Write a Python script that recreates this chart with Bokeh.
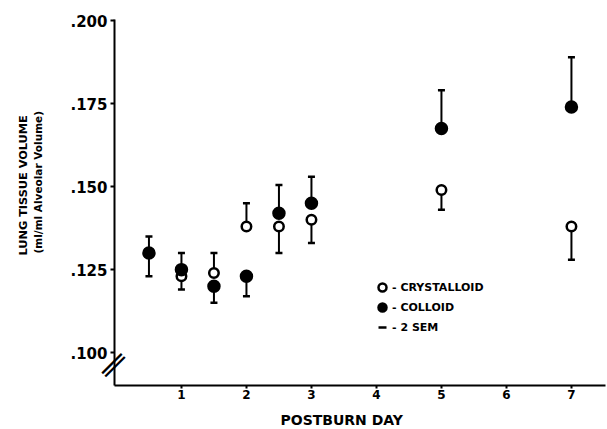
import math
from bokeh.plotting import figure
from bokeh.models import (ColumnDataSource, FixedTicker, CustomJSTickFormatter, LinearAxis,
                          Legend, LegendItem, Range1d, Title)
from bokeh.embed import file_html
from bokeh.resources import INLINE

# ---- data ----
days = [0.5, 1, 1.5, 2, 2.5, 3, 5, 7]
crystalloid = [0.130, 0.123, 0.124, 0.138, 0.138, 0.140, 0.149, 0.138]
crystalloid_bar_end = [0.123, 0.119, 0.130, 0.145, 0.130, 0.133, 0.143, 0.128]
colloid = [0.130, 0.125, 0.120, 0.123, 0.142, 0.145, 0.1675, 0.174]
colloid_bar_end = [0.135, 0.130, 0.115, 0.117, 0.1505, 0.153, 0.179, 0.189]
x_ticks = [1, 2, 3, 4, 5, 6, 7]
y_ticks = [0.100, 0.125, 0.150, 0.175, 0.200]
axis_break_at = [0.0951]

FONT = "DejaVu Sans"

p = figure(width=607, height=429, output_backend="svg", toolbar_location=None,
           x_range=Range1d(-0.03, 7.524), y_range=Range1d(0.0901, 0.20034),
           min_border_left=114, min_border_right=2, min_border_top=19, min_border_bottom=44)
p.grid.visible = False
p.outline_line_color = None

# x axis
p.xaxis.ticker = FixedTicker(ticks=x_ticks)
p.xaxis.axis_line_width = 2
p.xaxis.major_tick_out = 3
p.xaxis.major_tick_in = 0
p.xaxis.major_tick_line_width = 2
p.xaxis.minor_tick_line_color = None
p.xaxis.major_label_text_font = FONT
p.xaxis.major_label_text_font_size = "12px"
p.xaxis.major_label_text_font_style = "bold"
p.xaxis.major_label_text_color = "black"
p.xaxis.major_label_standoff = 1

# y axis
p.yaxis.ticker = FixedTicker(ticks=y_ticks)
p.yaxis.formatter = CustomJSTickFormatter(code="return tick.toFixed(3).replace(/^0/, '')")
p.yaxis.axis_line_width = 2
p.yaxis.major_tick_out = 4
p.yaxis.major_tick_in = 0
p.yaxis.major_tick_line_width = 2
p.yaxis.minor_tick_line_color = None
p.yaxis.major_label_text_font = FONT
p.yaxis.major_label_text_font_size = "15px"
p.yaxis.major_label_text_font_style = "bold"
p.yaxis.major_label_text_color = "black"
p.yaxis.major_label_standoff = 3

# axis-break mark, drawn as the (pulled-back) label of a helper axis in the left panel
brk = LinearAxis(ticker=FixedTicker(ticks=axis_break_at),
                 formatter=CustomJSTickFormatter(code="return '\u2225'"),
                 axis_line_color=None, major_tick_line_color=None, minor_tick_line_color=None,
                 major_tick_out=0, major_tick_in=0, major_label_standoff=-52,
                 major_label_orientation=-math.pi / 4,
                 major_label_text_font=FONT, major_label_text_font_size="28px",
                 major_label_text_color="black")
p.add_layout(brk, "left")


def spacer(n, tick):
    # invisible axis whose (hidden) tick length only reserves room in a side panel
    return LinearAxis(ticker=FixedTicker(ticks=[tick]), axis_line_color=None,
                      formatter=CustomJSTickFormatter(code="return ''"),
                      major_tick_line_color=None, minor_tick_line_color=None,
                      major_tick_out=n, major_tick_in=0, major_label_standoff=0,
                      major_label_text_font_size="0px")


p.add_layout(spacer(24, 0.15), "left")
p.add_layout(Title(text="(ml/ml Alveolar Volume)", align="left", offset=132, standoff=0,
                   vertical_align="bottom", text_font=FONT, text_font_size="10.5px",
                   text_font_style="bold", text_color="black"), "left")
p.add_layout(Title(text="LUNG TISSUE VOLUME", align="left", offset=130, standoff=0,
                   vertical_align="bottom", text_font=FONT, text_font_size="11.3px",
                   text_font_style="bold", text_color="black"), "left")

p.add_layout(spacer(8, 4), "below")
p.add_layout(Title(text="POSTBURN DAY", align="left", offset=166, standoff=0,
                   vertical_align="bottom", text_font=FONT, text_font_size="14px",
                   text_font_style="bold", text_color="black"), "below")

src_c = ColumnDataSource(dict(day=days, value=crystalloid, bar=crystalloid_bar_end))
src_k = ColumnDataSource(dict(day=days, value=colloid, bar=colloid_bar_end))

for src in (src_c, src_k):
    p.segment(x0="day", y0="value", x1="day", y1="bar", source=src,
              line_color="black", line_width=2)
    p.scatter(x="day", y="bar", source=src, marker="dash", size=7,
              line_color="black", line_width=2.5)

r_open = p.scatter(x="day", y="value", source=src_c, marker="circle", size=9.5,
                   fill_color="white", line_color="black", line_width=2.5)
r_fill = p.scatter(x="day", y="value", source=src_k, marker="circle", size=11,
                   fill_color="black", line_color="black", line_width=2.5)
# legend-only renderer for the "2 SEM" symbol (size 0 -> invisible in the plot)
r_sem = p.scatter(x="day", y="bar", source=src_k, marker="dash", angle=math.pi / 2, size=0,
                  line_color="black", line_width=2.5)

legend = Legend(items=[LegendItem(label="- CRYSTALLOID", renderers=[r_open]),
                       LegendItem(label="- COLLOID", renderers=[r_fill]),
                       LegendItem(label="- 2 SEM", renderers=[r_sem])],
                location=(258, 48), glyph_width=20, glyph_height=20, spacing=0,
                padding=0, margin=0, label_standoff=0, label_height=20,
                border_line_color=None, background_fill_alpha=0,
                label_text_font=FONT, label_text_font_size="11px",
                label_text_font_style="bold", label_text_color="black")
p.add_layout(legend)

open("out.html", "w").write(file_html(p, INLINE))
